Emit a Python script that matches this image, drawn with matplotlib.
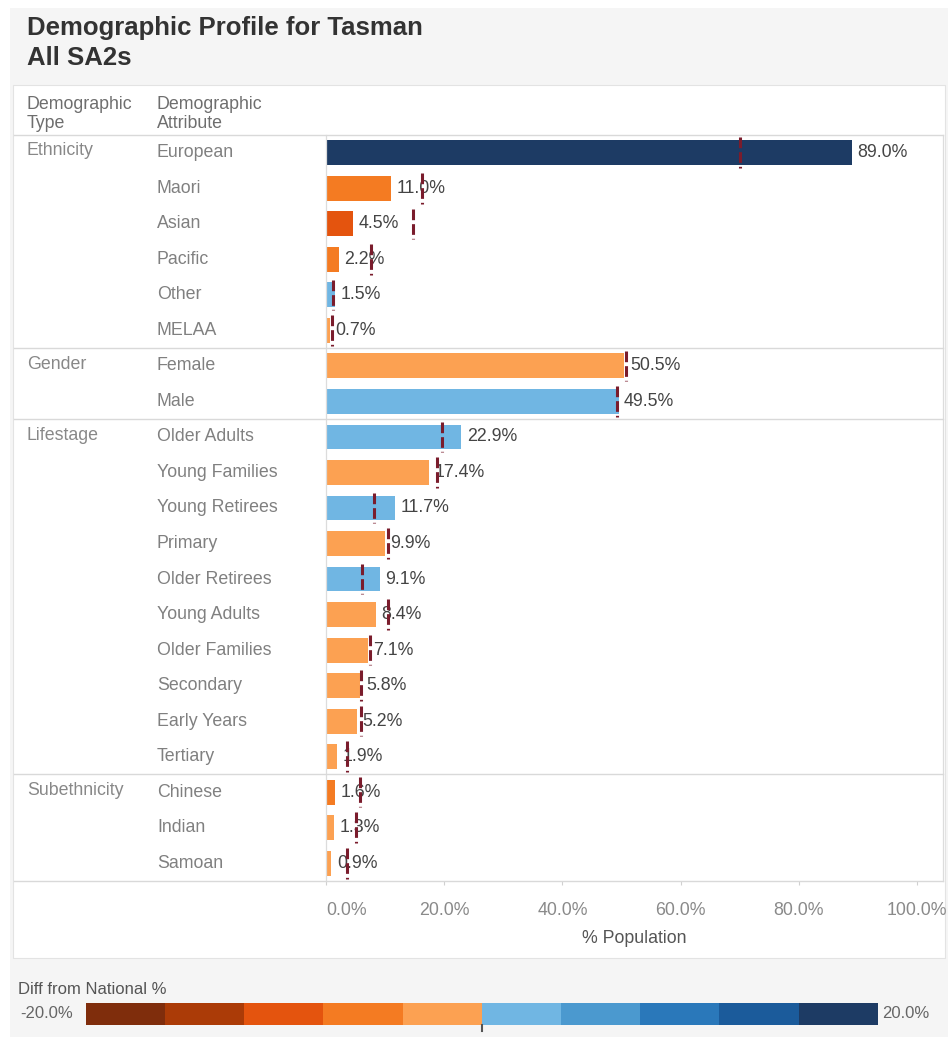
import matplotlib
matplotlib.use("Agg")
import matplotlib.pyplot as plt
import matplotlib.transforms as mtransforms
from matplotlib.colors import ListedColormap, BoundaryNorm
from matplotlib.lines import Line2D
from matplotlib.patches import Rectangle
import numpy as np

plt.rcParams['font.family'] = ['Liberation Sans', 'DejaVu Sans']

# ---- data -------------------------------------------------------------
group_names = ["Ethnicity", "Gender", "Lifestage", "Subethnicity"]
group_sizes = [6, 2, 10, 3]

attributes = [
    "European", "Maori", "Asian", "Pacific", "Other", "MELAA",
    "Female", "Male",
    "Older Adults", "Young Families", "Young Retirees", "Primary",
    "Older Retirees", "Young Adults", "Older Families", "Secondary",
    "Early Years", "Tertiary",
    "Chinese", "Indian", "Samoan",
]

# share of Tasman population (%)
local_pct = [
    89.0, 11.0, 4.5, 2.2, 1.5, 0.7,
    50.5, 49.5,
    22.9, 17.4, 11.7, 9.9, 9.1, 8.4, 7.1, 5.8, 5.2, 1.9,
    1.6, 1.3, 0.9,
]

# national share (%), drawn as reference lines
national_pct = [
    70.0, 16.2, 14.7, 7.6, 1.2, 1.0,
    50.7, 49.3,
    19.6, 18.7, 8.1, 10.5, 6.1, 10.5, 7.4, 5.9, 6.0, 3.5,
    5.7, 5.0, 3.5,
]

x_ticks = [0, 20, 40, 60, 80, 100]

diff_edges = [-20, -16, -12, -8, -4, 0, 4, 8, 12, 16, 20]
diff_colors = ['#7f2d0c', '#ab3b07', '#e4540e', '#f47b22', '#fca152',
               '#70b6e3', '#4b99cf', '#2a78ba', '#1b5b9b', '#1d3b64']

FS = 12.8

# ---- figure -----------------------------------------------------------
W, H = 950, 1037
fig = plt.figure(figsize=(W / 100, H / 100), dpi=100, facecolor='white')


def fx(x):
    return x / W


def fy(y):
    return 1 - y / H


def px_axes(x0, y0, x1, y1, **kw):
    return fig.add_axes([fx(x0), fy(y1), (x1 - x0) / W, (y1 - y0) / H], **kw)


# dashboard background and white chart panel
bg = px_axes(0, 0, W, H, zorder=-5)
bg.set_xlim(0, W)
bg.set_ylim(H, 0)
bg.axis('off')
bg.add_patch(Rectangle((10, 8), 938, H - 8, facecolor='#f5f5f5', edgecolor='none'))
bg.add_patch(Rectangle((13, 85), 932, 873, facecolor='white',
                       edgecolor='#e3e3e3', lw=0.8))

fig.text(fx(27), fy(16), "Demographic Profile for Tasman\nAll SA2s",
         fontsize=18.5, fontweight='bold', color='#333333', va='top', ha='left',
         linespacing=1.3)

hdr_kw = dict(fontsize=FS, color='#6e6e6e', va='center', ha='left', linespacing=1.2)
fig.text(fx(27), fy(114), "Demographic\nType", **hdr_kw)
fig.text(fx(157), fy(114), "Demographic\nAttribute", **hdr_kw)

# ---- bar axes ---------------------------------------------------------
ax = px_axes(326, 135, 943, 881)
ax.set_facecolor('none')
n = len(attributes)
rows = np.arange(n)

cmap = ListedColormap(diff_colors)
norm = BoundaryNorm(diff_edges, cmap.N)
diffs = np.array(local_pct) - np.array(national_pct)
bar_colors = cmap(norm(np.clip(diffs, -19.99, 19.99)))

ax.barh(rows, local_pct, height=0.7, color=bar_colors, zorder=2)
ax.vlines(national_pct, rows - 0.43, rows + 0.43, colors='#7a1c2c', lw=2.2,
          linestyles=(0, (3.5, 1.3)), zorder=4)

for i, v in enumerate(local_pct):
    ax.annotate(f"{v:.1f}%", (v, i), xytext=(4, 0), textcoords='offset points',
                va='center', ha='left', fontsize=FS, color='#444444', zorder=3)

ax.set_xlim(0, 104.4)
ax.set_ylim(n - 0.5, -0.5)
ax.set_yticks([])
ax.set_xticks(x_ticks)
ax.set_xticklabels([f"{t:.1f}%" for t in x_ticks])
ax.get_xticklabels()[0].set_ha('left')
ax.tick_params(axis='x', length=3, color='#d0d0d0', labelcolor='#8a8a8a',
               labelsize=FS, pad=12)
ax.set_xlabel("% Population", fontsize=FS, color='#555555', labelpad=8)
for side in ['top', 'bottom']:
    ax.spines[side].set_visible(False)
for side in ['left', 'right']:
    ax.spines[side].set_color('#dcdcdc')
    ax.spines[side].set_linewidth(0.9)

# row labels and group separators across the whole table
blend = mtransforms.blended_transform_factory(fig.transFigure, ax.transData)
for i, name in enumerate(attributes):
    fig.text(fx(157), i, name, transform=blend, fontsize=FS, color='#808080',
             va='center', ha='left')

starts = np.cumsum([0] + group_sizes[:-1])
for g, s in zip(group_names, starts):
    fig.text(fx(27), s - 0.05, g, transform=blend, fontsize=FS, color='#888888',
             va='center', ha='left')

sep_rows = [-0.5] + list(np.cumsum(group_sizes) - 0.5)
for y in sep_rows:
    fig.lines.append(Line2D([fx(14), fx(943)], [y, y], transform=blend,
                            color='#d9d9d9', lw=1.0))

# ---- colour legend ----------------------------------------------------
fig.text(fx(18), fy(990), "Diff from National %", fontsize=12, color='#555555',
         va='center', ha='left')
fig.text(fx(20), fy(1014), f"{diff_edges[0]:.1f}%", fontsize=12, color='#666666',
         va='center', ha='left')
fig.text(fx(882), fy(1014), f"{diff_edges[-1]:.1f}%", fontsize=12, color='#666666',
         va='center', ha='left')

lax = px_axes(86, 1003, 878, 1025)
lax.imshow(np.arange(len(diff_colors))[None, :], cmap=cmap, aspect='auto',
           extent=(diff_edges[0], diff_edges[-1], 0, 1), interpolation='nearest')
lax.plot([0, 0], [0, -0.25], color='#555555', lw=1.5, clip_on=False)
lax.set_xlim(diff_edges[0], diff_edges[-1])
lax.set_ylim(0, 1)
lax.axis('off')

fig.savefig("out.png", dpi=100, facecolor=fig.get_facecolor())
